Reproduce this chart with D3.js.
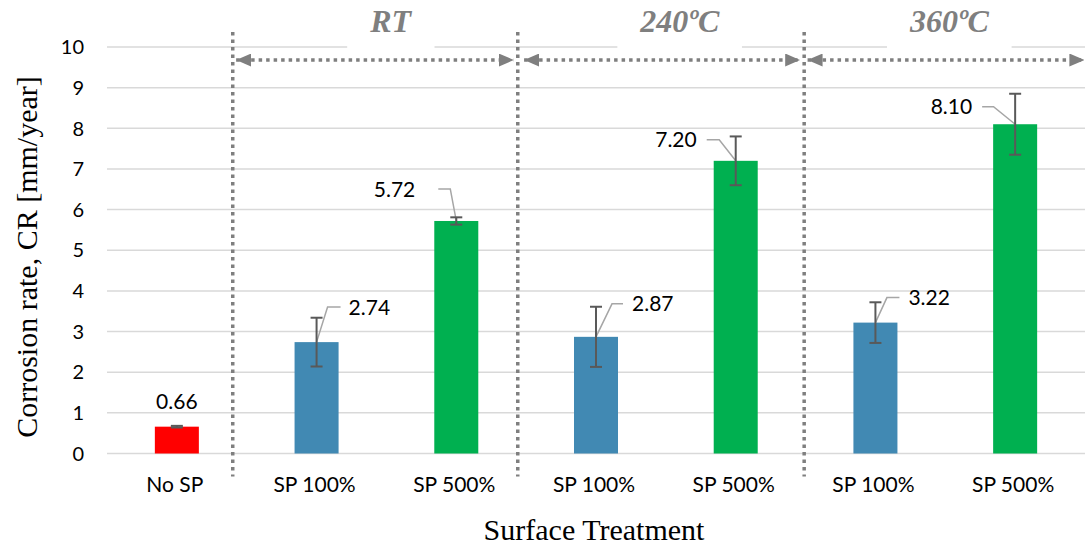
<!DOCTYPE html>
<html>
<head>
<meta charset="utf-8">
<script src="https://cdn.jsdelivr.net/npm/d3@7"></script>
<style>
  body { margin: 0; background: #fff; }
  svg { display: block; }
  .tick-label, .cat-label, .value-label { font-family: Lato, 'Noto Sans', sans-serif; font-size: 21px; fill: #000; }
  .tick-label { font-size: 20px; }
  .axis-title { font-family: 'Liberation Serif', 'Times New Roman', serif; font-size: 30px; fill: #000; }
  .group-title { font-family: 'Liberation Serif', 'Times New Roman', serif; font-size: 32px; font-weight: bold; font-style: italic; fill: #7f7f7f; }
</style>
</head>
<body>
<div id="chart"></div>
<script>
// chart values
const categories = ['No SP', 'SP 100%', 'SP 500%', 'SP 100%', 'SP 500%', 'SP 100%', 'SP 500%']
const values = [0.66, 2.74, 5.72, 2.87, 7.20, 3.22, 8.10]
const errors = [0.02, 0.60, 0.09, 0.74, 0.60, 0.50, 0.75]
const yTicks = [0, 1, 2, 3, 4, 5, 6, 7, 8, 9, 10]
const groupTitles = ['RT', '240ºC', '360ºC']

// annotation layout, in category units (0 = left edge of plot, 7 = right edge)
const separatorAt = [0.9, 2.94, 4.99]
const arrowSpans = [[0.91, 2.926], [2.971, 4.976], [5.0, 7.01]]
const titleAt = [2.03, 4.1, 6.03]
const arrowValue = 9.68

// label nudges in px relative to the bar top: label dx/dy, elbow dx, leader end dx
const labelNudge = [
  {dx: 0, dy: -25, anchor: 'middle'},
  {dx: 32, dy: -35, ex: 11, hx: 24, anchor: 'start'},
  {dx: -41, dy: -32, ex: -6, hx: -18, anchor: 'end'},
  {dx: 36, dy: -33, ex: 16, hx: 27, anchor: 'start'},
  {dx: -39, dy: -21, ex: -16.5, hx: -29, anchor: 'end'},
  {dx: 33, dy: -25, ex: 11.5, hx: 24, anchor: 'start'},
  {dx: -43, dy: -17.5, ex: -21.6, hx: -33, anchor: 'end'}
]

const width = 1091, height = 546
const margin = {top: 47, right: 6, bottom: 92.5, left: 107}
const plotW = width - margin.left - margin.right
const plotH = height - margin.top - margin.bottom

const colorOf = d3.scaleOrdinal()
  .domain(['No SP', 'SP 100%', 'SP 500%'])
  .range(['#ff0000', '#4189b3', '#00b050'])

const x = d3.scaleBand()
  .domain(d3.range(categories.length))
  .range([0, plotW])
  .paddingInner(0.685)
  .paddingOuter(0.3425)
const xu = d3.scaleLinear().domain([0, categories.length]).range([0, plotW])
const y = d3.scaleLinear().domain([0, 10]).range([plotH, 0])

const svg = d3.select('#chart').append('svg')
  .attr('width', width)
  .attr('height', height)

const defs = svg.append('defs')
defs.append('marker')
  .attr('id', 'head')
  .attr('viewBox', '0 0 15 13')
  .attr('refX', 15).attr('refY', 6.5)
  .attr('markerWidth', 15).attr('markerHeight', 13)
  .attr('markerUnits', 'userSpaceOnUse')
  .attr('orient', 'auto-start-reverse')
  .append('path')
  .attr('d', 'M0,0 L15,6.5 L0,13 Z')
  .attr('fill', '#7f7f7f')

const g = svg.append('g').attr('transform', 'translate(' + margin.left + ',' + margin.top + ')')

// gridlines
g.append('g').selectAll('line')
  .data(yTicks)
  .enter().append('line')
  .attr('x1', 0).attr('x2', plotW)
  .attr('y1', d => y(d)).attr('y2', d => y(d))
  .attr('stroke', '#d9d9d9')
  .attr('stroke-width', 1.5)

// y tick labels
g.append('g').selectAll('text')
  .data(yTicks)
  .enter().append('text')
  .attr('class', 'tick-label')
  .attr('x', -23)
  .attr('y', d => y(d))
  .attr('dy', '0.36em')
  .attr('text-anchor', 'end')
  .text(d => d)

// category labels
g.append('g').selectAll('text')
  .data(categories)
  .enter().append('text')
  .attr('class', 'cat-label')
  .attr('x', (d, i) => x(i) + x.bandwidth() / 2 - 2)
  .attr('y', plotH + 38.5)
  .attr('text-anchor', 'middle')
  .text(d => d)

// group separators (dotted)
g.append('g').selectAll('line')
  .data(separatorAt)
  .enter().append('line')
  .attr('x1', d => xu(d)).attr('x2', d => xu(d))
  .attr('y1', -15).attr('y2', plotH + 23)
  .attr('stroke', '#7f7f7f')
  .attr('stroke-width', 3.5)
  .attr('stroke-dasharray', '3.5,4')

// group arrows
g.append('g').selectAll('line')
  .data(arrowSpans)
  .enter().append('line')
  .attr('x1', d => xu(d[0]) + 2).attr('x2', d => xu(d[1]) - 2)
  .attr('y1', y(arrowValue)).attr('y2', y(arrowValue))
  .attr('stroke', '#7f7f7f')
  .attr('stroke-width', 3.5)
  .attr('stroke-dasharray', '3.5,4')
  .attr('marker-start', 'url(#head)')
  .attr('marker-end', 'url(#head)')

// group titles with white boxes
let titles = g.append('g').selectAll('g')
  .data(groupTitles)
  .enter().append('g')
titles.append('rect')
titles.append('text')
  .attr('class', 'group-title')
  .attr('x', (d, i) => xu(titleAt[i]))
  .attr('y', -15)
  .attr('text-anchor', 'middle')
  .text(d => d)
titles.each(function() {
  let t = d3.select(this)
  let bb = t.select('text').node().getBBox()
  t.select('rect')
    .attr('x', bb.x - 22).attr('width', bb.width + 44)
    .attr('y', -38).attr('height', 43)
    .attr('fill', '#fff')
})

// bars
g.append('g').selectAll('rect')
  .data(values)
  .enter().append('rect')
  .attr('x', (d, i) => x(i))
  .attr('width', x.bandwidth())
  .attr('y', d => y(d))
  .attr('height', d => plotH - y(d))
  .attr('fill', (d, i) => colorOf(categories[i]))

// leader lines
g.append('g').selectAll('polyline')
  .data(values.map((v, i) => ({v, i, n: labelNudge[i]})).filter(d => d.n.ex !== undefined))
  .enter().append('polyline')
  .attr('points', d => {
    let cx = x(d.i) + x.bandwidth() / 2
    let cy = y(d.v)
    return [[cx, cy], [cx + d.n.ex, cy + d.n.dy], [cx + d.n.hx, cy + d.n.dy]].join(' ')
  })
  .attr('fill', 'none')
  .attr('stroke', '#a6a6a6')
  .attr('stroke-width', 1.5)

// error bars
let eb = g.append('g').selectAll('g')
  .data(values)
  .enter().append('g')
  .attr('stroke', '#595959')
  .attr('stroke-width', 2)
eb.append('line')
  .attr('x1', (d, i) => x(i) + x.bandwidth() / 2)
  .attr('x2', (d, i) => x(i) + x.bandwidth() / 2)
  .attr('y1', (d, i) => y(d + errors[i]))
  .attr('y2', (d, i) => y(d - errors[i]))
eb.selectAll('line.cap')
  .data((d, i) => [[i, d + errors[i]], [i, d - errors[i]]])
  .enter().append('line')
  .attr('class', 'cap')
  .attr('x1', d => x(d[0]) + x.bandwidth() / 2 - 6)
  .attr('x2', d => x(d[0]) + x.bandwidth() / 2 + 6)
  .attr('y1', d => y(d[1]))
  .attr('y2', d => y(d[1]))

// value labels
g.append('g').selectAll('text')
  .data(values)
  .enter().append('text')
  .attr('class', 'value-label')
  .attr('x', (d, i) => x(i) + x.bandwidth() / 2 + labelNudge[i].dx)
  .attr('y', (d, i) => y(d) + labelNudge[i].dy)
  .attr('dy', '0.36em')
  .attr('text-anchor', (d, i) => labelNudge[i].anchor)
  .text(d => d.toFixed(2))

// axis titles
svg.append('text')
  .attr('class', 'axis-title')
  .attr('x', margin.left + plotW / 2 - 2)
  .attr('y', 540)
  .attr('text-anchor', 'middle')
  .text('Surface Treatment')

svg.append('text')
  .attr('class', 'axis-title')
  .attr('transform', 'translate(37,257) rotate(-90)')
  .attr('text-anchor', 'middle')
  .text('Corrosion rate, CR [mm/year]')
</script>
</body>
</html>
